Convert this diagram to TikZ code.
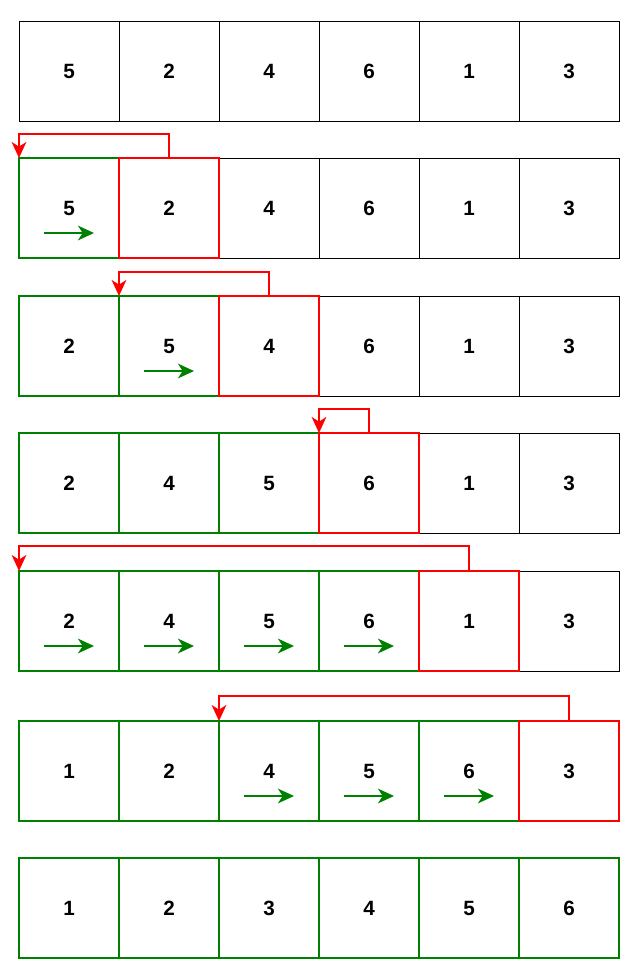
\documentclass[tikz,border=0pt]{standalone}
\usepackage{fontspec}
\setmainfont{Liberation Sans}
\usetikzlibrary{arrows.meta}
\definecolor{dgreen}{HTML}{008000}
\definecolor{lred}{HTML}{FF0000}
\newcommand{\cellfont}{\fontsize{15.5}{18}\selectfont\bfseries}
\tikzset{
  cell/.style={draw=black, line width=0.75pt, minimum size=75pt, inner sep=0pt, outer sep=0pt, font=\cellfont, anchor=north west, fill=white},
  gcell/.style={cell, draw=dgreen, line width=1.5pt},
  rcell/.style={cell, draw=lred, line width=1.5pt},
  back/.style={draw=lred, line width=1.5pt, -{Stealth[length=12pt,width=11pt,inset=3.5pt]}},
  garrow/.style={draw=dgreen, line width=1.5pt, -{Stealth[length=12pt,width=11pt,inset=3.5pt]}}
}
\begin{document}
\begin{tikzpicture}[x=0.75pt,y=-0.75pt]
\useasboundingbox (0,0) rectangle (639,976);
% row 1
\foreach \i/\v in {1/5,2/2,3/4,4/6,5/1,6/3}
  \node[cell] (r1c\i) at ({19+100*(\i-1)},21) {\v};
% row 2
\foreach \i/\v/\s in {3/4/cell,4/6/cell,5/1/cell,6/3/cell,1/5/gcell,2/2/rcell}
  \node[\s] (r2c\i) at ({19+100*(\i-1)},158) {\v};
% row 3
\foreach \i/\v/\s in {4/6/cell,5/1/cell,6/3/cell,1/2/gcell,2/5/gcell,3/4/rcell}
  \node[\s] (r3c\i) at ({19+100*(\i-1)},296) {\v};
% row 4
\foreach \i/\v/\s in {5/1/cell,6/3/cell,1/2/gcell,2/4/gcell,3/5/gcell,4/6/rcell}
  \node[\s] (r4c\i) at ({19+100*(\i-1)},433) {\v};
% row 5
\foreach \i/\v/\s in {6/3/cell,1/2/gcell,2/4/gcell,3/5/gcell,4/6/gcell,5/1/rcell}
  \node[\s] (r5c\i) at ({19+100*(\i-1)},571) {\v};
% row 6
\foreach \i/\v/\s in {1/1/gcell,2/2/gcell,3/4/gcell,4/5/gcell,5/6/gcell,6/3/rcell}
  \node[\s] (r6c\i) at ({19+100*(\i-1)},721) {\v};
% row 7
\foreach \i/\v in {1/1,2/2,3/3,4/4,5/5,6/6}
  \node[gcell] (r7c\i) at ({19+100*(\i-1)},858) {\v};
% red connectors
\draw[back] (r2c2.north) -- ++(0,-24) -| (r2c1.north west);
\draw[back] (r3c3.north) -- ++(0,-24) -| (r3c2.north west);
\draw[back] (r4c4.north) -- ++(0,-24) -| (r4c4.north west);
\draw[back] (r5c5.north) -- ++(0,-25) -| (r5c1.north west);
\draw[back] (r6c6.north) -- ++(0,-25) -| (r6c3.north west);
% green shift arrows
\foreach \c in {r2c1,r3c2,r5c1,r5c2,r5c3,r5c4,r6c3,r6c4,r6c5}
  \draw[garrow] ([shift={(-25,25)}]\c.center) -- ([shift={(25,25)}]\c.center);
\end{tikzpicture}
\end{document}
